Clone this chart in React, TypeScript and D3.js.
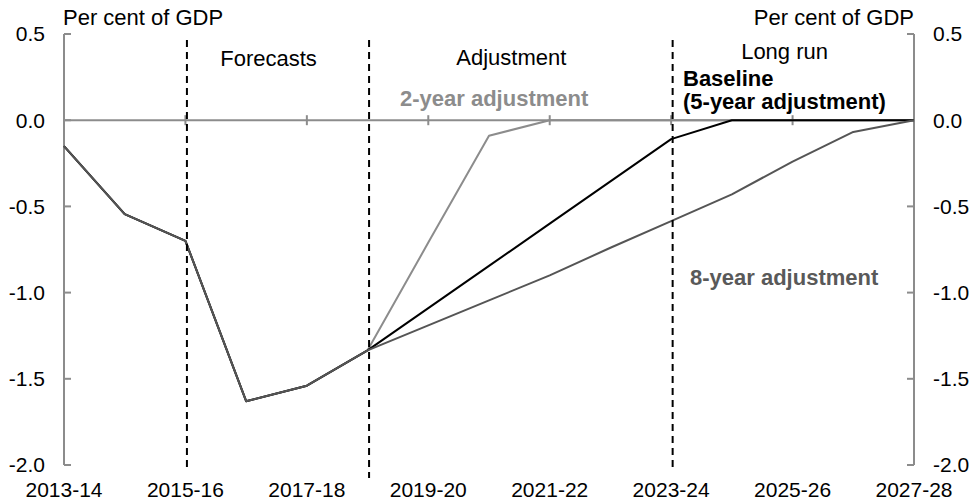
import React, { useEffect, useRef } from "react";
import * as d3 from "d3";

const categories = [
  "2013-14", "2014-15", "2015-16", "2016-17", "2017-18", "2018-19", "2019-20",
  "2020-21", "2021-22", "2022-23", "2023-24", "2024-25", "2025-26", "2026-27", "2027-28",
];
const twoYear = [-0.15, -0.545, -0.7, -1.63, -1.54, -1.335, -0.71, -0.09, 0, 0, 0, 0, 0, 0, 0];
const baseline = [-0.15, -0.545, -0.7, -1.63, -1.54, -1.335, -1.09, -0.845, -0.6, -0.355, -0.11, 0, 0, 0, 0];
const eightYear = [-0.15, -0.545, -0.7, -1.63, -1.54, -1.335, -1.19, -1.045, -0.9, -0.74, -0.585, -0.43, -0.24, -0.068, 0];
const yTicks = [0.5, 0.0, -0.5, -1.0, -1.5, -2.0];
const xLabelCats = ["2013-14", "2015-16", "2017-18", "2019-20", "2021-22", "2023-24", "2025-26", "2027-28"];
const dividers = ["2015-16", "2018-19", "2023-24"];
const regions = [
  { label: "Forecasts", from: "2015-16", to: "2018-19" },
  { label: "Adjustment", from: "2018-19", to: "2023-24" },
  { label: "Long run", from: "2023-24", to: "2027-28" },
];

const W = 971;
const H = 502;
const FONT = "'Liberation Sans', Arial, sans-serif";

export default function App() {
  const ref = useRef<SVGSVGElement>(null);

  useEffect(() => {
    const svg = d3.select(ref.current);
    svg.selectAll("*").remove();

    const x = d3.scalePoint<string>().domain(categories).range([64, 914]);
    const y = d3.scaleLinear().domain([-2, 0.5]).range([465, 34]);
    const axisColor = "#8c8c8c";
    const fmt = (t: number) => t.toFixed(1);

    // Left axis
    const left = svg.append("g").attr("transform", "translate(64,0)");
    left.append("line").attr("y1", y(0.5)).attr("y2", y(-2)).attr("stroke", axisColor).attr("stroke-width", 2);
    yTicks.forEach((t) => {
      left.append("line").attr("x1", 0).attr("x2", 7).attr("y1", y(t)).attr("y2", y(t)).attr("stroke", axisColor).attr("stroke-width", 2);
      left.append("text").attr("x", -19).attr("y", y(t)).attr("dy", "0.35em").attr("text-anchor", "end")
        .attr("font-family", FONT).attr("font-size", 21).attr("fill", "#000").text(fmt(t));
    });
    // Right axis
    const right = svg.append("g").attr("transform", "translate(914,0)");
    right.append("line").attr("y1", y(0.5)).attr("y2", y(-2)).attr("stroke", axisColor).attr("stroke-width", 2);
    yTicks.forEach((t) => {
      right.append("line").attr("x1", 0).attr("x2", -7).attr("y1", y(t)).attr("y2", y(t)).attr("stroke", axisColor).attr("stroke-width", 2);
      right.append("text").attr("x", 19).attr("y", y(t)).attr("dy", "0.35em").attr("text-anchor", "start")
        .attr("font-family", FONT).attr("font-size", 21).attr("fill", "#000").text(fmt(t));
    });

    // Zero line (category axis)
    svg.append("line").attr("x1", x(categories[0])).attr("x2", x(categories[categories.length - 1]))
      .attr("y1", y(0)).attr("y2", y(0)).attr("stroke", axisColor).attr("stroke-width", 2);
    xLabelCats.forEach((c) => {
      svg.append("line").attr("x1", x(c)).attr("x2", x(c)).attr("y1", y(0) - 5).attr("y2", y(0) + 5)
        .attr("stroke", axisColor).attr("stroke-width", 2);
      svg.append("text").attr("x", x(c)).attr("y", 497).attr("text-anchor", "middle")
        .attr("font-family", FONT).attr("font-size", 21).attr("fill", "#000").text(c);
    });

    // Axis titles
    svg.append("text").attr("x", 63).attr("y", 25).attr("font-family", FONT).attr("font-size", 22)
      .attr("fill", "#000").text("Per cent of GDP");
    svg.append("text").attr("x", 914).attr("y", 25).attr("text-anchor", "end").attr("font-family", FONT)
      .attr("font-size", 22).attr("fill", "#000").text("Per cent of GDP");

    // Region labels
    const regionY: Record<string, number> = { Forecasts: 66, Adjustment: 65, "Long run": 59 };
    regions.forEach((r) => {
      const cx = ((x(r.from) as number) + (x(r.to) as number)) / 2 - 8;
      svg.append("text").attr("x", cx).attr("y", regionY[r.label]).attr("text-anchor", "middle")
        .attr("font-family", FONT).attr("font-size", 22).attr("fill", "#000").text(r.label);
    });

    // Lines
    const line = d3.line<number>().x((_, i) => x(categories[i]) as number).y((d) => y(d));
    const series = [
      { values: twoYear, color: "#8c8c8c" },
      { values: baseline, color: "#000000" },
      { values: eightYear, color: "#555555" },
    ];
    series.forEach((s) => {
      svg.append("path").attr("d", line(s.values)).attr("fill", "none").attr("stroke", s.color)
        .attr("stroke-width", 2).attr("stroke-linejoin", "round");
    });

    // Dividers
    dividers.forEach((c, i) => {
      svg.append("line").attr("x1", (x(c) as number) + 1.5).attr("x2", (x(c) as number) + 1.5)
        .attr("y1", 40).attr("y2", i === 1 ? 478 : 467).attr("stroke", "#000").attr("stroke-width", 2)
        .attr("stroke-dasharray", "7,5");
    });

    // Series labels
    const lbl = (text: string, lx: number, ly: number, color: string) =>
      svg.append("text").attr("x", lx).attr("y", ly).attr("font-family", FONT).attr("font-size", 22)
        .attr("font-weight", "bold").attr("fill", color).text(text);
    lbl("2-year adjustment", 400, 106, "#8c8c8c");
    lbl("Baseline", 683, 86, "#000");
    lbl("(5-year adjustment)", 683, 109, "#000");
    lbl("8-year adjustment", 690, 285, "#595959");
  }, []);

  return (
    <svg ref={ref} width={W} height={H}
      style={{ position: "absolute", left: 0, top: 0, background: "#fff" }} />
  );
}
